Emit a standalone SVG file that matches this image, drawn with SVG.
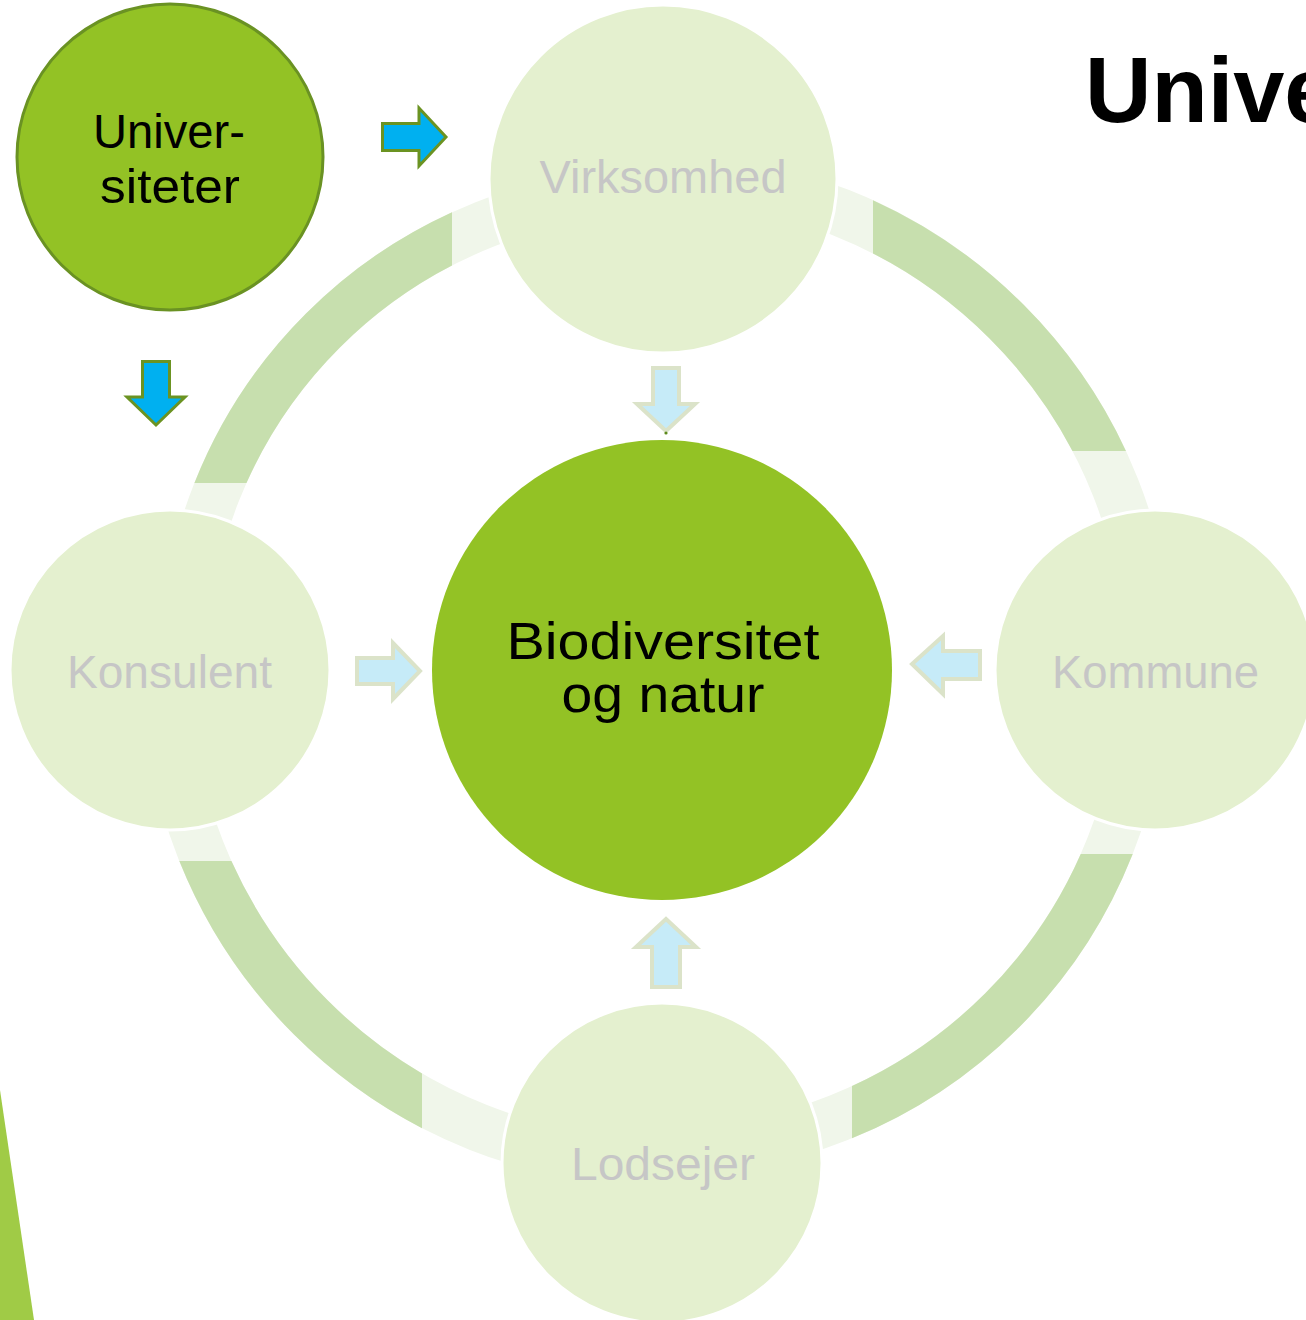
<svg xmlns="http://www.w3.org/2000/svg" width="1306" height="1320" viewBox="0 0 1306 1320">
  <style>
    .ringL { fill: none; stroke: #f0f6ea; stroke-width: 48; }
    .ringD { fill: none; stroke: #c7dfae; stroke-width: 48; }
    .sat { fill: #e4f0cf; stroke: #ffffff; stroke-width: 3; }
    .satText { font-family: "Liberation Sans", Arial, sans-serif; font-size: 46px; fill: #c6c6c6; text-anchor: middle; }
    .mainText { font-family: "Liberation Sans", Arial, sans-serif; font-size: 52px; fill: #000000; text-anchor: middle; }
    .uniText { font-family: "Liberation Sans", Arial, sans-serif; font-size: 48px; fill: #000000; text-anchor: middle; }
    .paleArrow { fill: #c6ebf8; stroke: #dbe3c9; stroke-width: 4; stroke-linejoin: miter; }
    .blueArrow { fill: #00b0f0; stroke: #6b9322; stroke-width: 3; stroke-linejoin: miter; }
  </style>
  <defs>
    <clipPath id="qTL"><rect x="0" y="0" width="660" height="668"/></clipPath>
    <clipPath id="qTR"><rect x="660" y="0" width="646" height="668"/></clipPath>
    <clipPath id="qBR"><rect x="660" y="668" width="646" height="652"/></clipPath>
    <clipPath id="qBL"><rect x="0" y="668" width="660" height="652"/></clipPath>
    <clipPath id="dTL"><rect x="0" y="0" width="452" height="483"/></clipPath>
    <clipPath id="dTR"><rect x="873" y="0" width="433" height="451"/></clipPath>
    <clipPath id="dBR"><rect x="852" y="854" width="454" height="466"/></clipPath>
    <clipPath id="dBL"><rect x="0" y="861" width="422" height="459"/></clipPath>
  </defs>

  <rect x="0" y="0" width="1306" height="1320" fill="#ffffff"/>

  <!-- decorative slide elements -->
  <polygon points="0,1090 34,1320 0,1320" fill="#a0cb46"/>
  <text x="1085" y="122" font-family="'Liberation Sans', Arial, sans-serif" font-size="92" font-weight="bold" fill="#000000">Unive</text>

  <!-- connectors: ring arcs and arrows -->
  <g id="connectors">
    <circle class="ringL" cx="660" cy="668" r="477" clip-path="url(#qTL)"/>
    <circle class="ringL" cx="660" cy="668" r="490" clip-path="url(#qTR)"/>
    <circle class="ringL" cx="660" cy="668" r="484" clip-path="url(#qBR)"/>
    <circle class="ringL" cx="660" cy="668" r="494" clip-path="url(#qBL)"/>
    <circle class="ringD" cx="660" cy="668" r="477" clip-path="url(#dTL)"/>
    <circle class="ringD" cx="660" cy="668" r="490" clip-path="url(#dTR)"/>
    <circle class="ringD" cx="660" cy="668" r="484" clip-path="url(#dBR)"/>
    <circle class="ringD" cx="660" cy="668" r="494" clip-path="url(#dBL)"/>

    <!-- pale arrows toward center -->
    <polygon class="paleArrow" points="653,368 679,368 679,404 695,404 666,431 637,404 653,404"/>
    <polygon class="paleArrow" points="357,658 393,658 393,643 420,671 393,699 393,684 357,684"/>
    <polygon class="paleArrow" points="980,651 943,651 943,636 912,664 943,694 943,679 980,679"/>
    <polygon class="paleArrow" points="652,987 680,987 680,947 696,947 666,919 636,947 652,947"/>
    <circle cx="666" cy="433" r="1.6" fill="#5d8a1c"/>

    <!-- blue arrows from Universiteter -->
    <polygon class="blueArrow" points="382.5,123.5 419,123.5 419,108 446,137 419,166 419,150.5 382.5,150.5"/>
    <polygon class="blueArrow" points="142.5,361.5 169.5,361.5 169.5,397 185,397 156,425 127,397 142.5,397"/>
  </g>

  <g id="node-universiteter">
    <circle cx="170" cy="157" r="153" fill="#93c225" stroke="#6a9223" stroke-width="3"/>
    <text class="uniText" x="169" y="148" textLength="152" lengthAdjust="spacingAndGlyphs">Univer-</text>
    <text class="uniText" x="170" y="203" textLength="140" lengthAdjust="spacingAndGlyphs">siteter</text>
  </g>

  <g id="node-virksomhed">
    <circle class="sat" cx="663" cy="179" r="174"/>
    <text class="satText" x="663" y="193" textLength="247" lengthAdjust="spacingAndGlyphs">Virksomhed</text>
  </g>

  <g id="node-konsulent">
    <circle class="sat" cx="170" cy="670" r="160"/>
    <text class="satText" x="169.5" y="688" textLength="205" lengthAdjust="spacingAndGlyphs">Konsulent</text>
  </g>

  <g id="node-kommune">
    <circle class="sat" cx="1155" cy="670" r="160"/>
    <text class="satText" x="1155.5" y="688" textLength="207" lengthAdjust="spacingAndGlyphs">Kommune</text>
  </g>

  <g id="node-lodsejer">
    <circle class="sat" cx="662" cy="1163" r="160"/>
    <text class="satText" x="663" y="1180" textLength="184" lengthAdjust="spacingAndGlyphs">Lodsejer</text>
  </g>

  <g id="node-biodiversitet">
    <circle cx="662" cy="670" r="230" fill="#93c225"/>
    <text class="mainText" x="663" y="659" textLength="313" lengthAdjust="spacingAndGlyphs">Biodiversitet</text>
    <text class="mainText" x="663" y="712" textLength="203" lengthAdjust="spacingAndGlyphs">og natur</text>
  </g>
</svg>
